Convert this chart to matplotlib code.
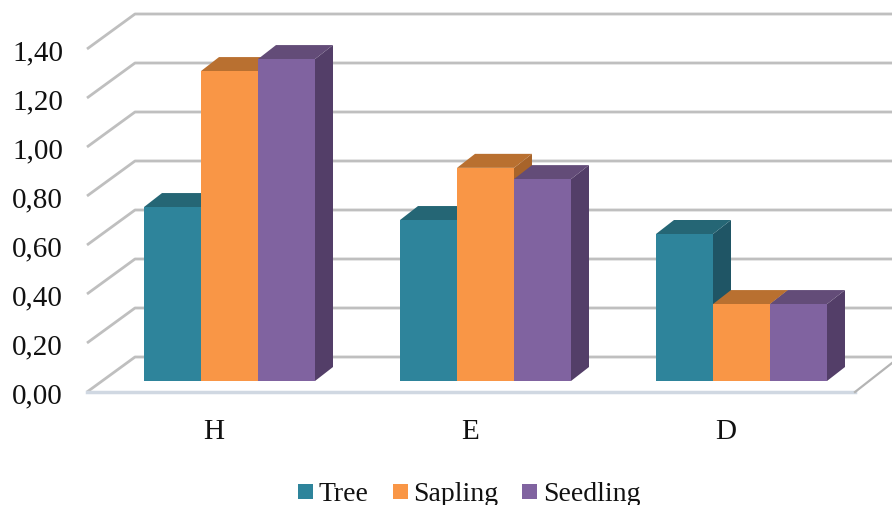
import matplotlib
matplotlib.use("Agg")
import matplotlib.pyplot as plt
from matplotlib.patches import Polygon, Rectangle
import numpy as np

categories = ["H", "E", "D"]
series_names = ["Tree", "Sapling", "Seedling"]
tree = [0.71, 0.657, 0.60]
sapling = [1.265, 0.87, 0.314]
seedling = [1.314, 0.824, 0.314]
ticks = [0.0, 0.2, 0.4, 0.6, 0.8, 1.0, 1.2, 1.4]
tick_labels = ["0,00", "0,20", "0,40", "0,60", "0,80", "1,00", "1,20", "1,40"]

front_cols = ["#2e849b", "#f99646", "#8063a0"]
top_cols = ["#256675", "#b97030", "#634c78"]
side_cols = ["#1f5565", "#a8642a", "#533e68"]

# scale of the picture : one category = 256 px, one unit of value = 245 px
W, H = 892, 506
sx, sy = 256.0, 245.0
y_zero = 393

plt.rcParams["font.family"] = ["Liberation Serif"]
fig = plt.figure(figsize=(W / 100, H / 100), dpi=100)
ax = fig.add_axes([0, 0, 1, 1])
x0 = -229.5 / sx
ax.set_xlim(x0, x0 + W / sx)
ax.set_ylim((y_zero - H) / sy, y_zero / sy)
ax.axis("off")

# wall depth and bar depth, in data units
wall_dx, wall_dy = 48 / sx, 35 / sy
bar_dx, bar_dy = 18 / sx, 14 / sy
base = 11 / sy
bar_w = 57 / sx
left_front = (87 - 229.5) / sx
right_front = (855 - 229.5) / sx
x_end = x0 + W / sx

grid_col = "#bfbfbf"
for t, lab in zip(ticks, tick_labels):
    ax.plot([left_front, left_front + wall_dx, x_end], [t, t + wall_dy, t + wall_dy],
            color=grid_col, lw=2, solid_capstyle="butt", zorder=1)
    ax.text((63 - 229.5) / sx, t, lab, ha="right", va="center_baseline",
            fontsize=21, color="#111111")

# floor
ax.plot([left_front, right_front], [0, 0], color="#d0d8e2", lw=2.5, zorder=2)
ax.plot([right_front, right_front + 37 / sx], [0, 29 / sy], color="#b4b4b4", lw=1.6, zorder=2)

values = [tree, sapling, seedling]
for i in range(len(categories)):
    for j, vals in enumerate(values):
        v = vals[i]
        xl = i + (j - 1.5) * bar_w
        xr = xl + bar_w
        top = v + base
        side = [(xr, base), (xr + bar_dx, base + bar_dy), (xr + bar_dx, top + bar_dy), (xr, top)]
        roof = [(xl, top), (xl + bar_dx, top + bar_dy), (xr + bar_dx, top + bar_dy), (xr, top)]
        ax.add_patch(Polygon(side, fc=side_cols[j], ec="none", zorder=3))
        ax.add_patch(Polygon(roof, fc=top_cols[j], ec="none", zorder=3))
        ax.add_patch(Rectangle((xl, base), bar_w, v, fc=front_cols[j], ec="none", zorder=3))
    ax.text(i - 15.5 / sx, (y_zero - 429) / sy, categories[i], ha="center", va="center_baseline",
            fontsize=21, color="#111111")

# legend, cut by the bottom of the picture as in the original
leg_x = [298, 393, 522]
leg_text_x = [318.5, 413, 543]
for name, col, lx, tx in zip(series_names, front_cols, leg_x, leg_text_x):
    ax.add_patch(Rectangle(((lx - 229.5) / sx, (y_zero - 500) / sy), 14.5 / sx, 15 / sy, fc=col, ec="none"))
    ax.text((tx - 229.5) / sx, (y_zero - 501) / sy, name, ha="left", va="baseline", fontsize=20, color="#111111")

fig.savefig("out.png", dpi=100)
